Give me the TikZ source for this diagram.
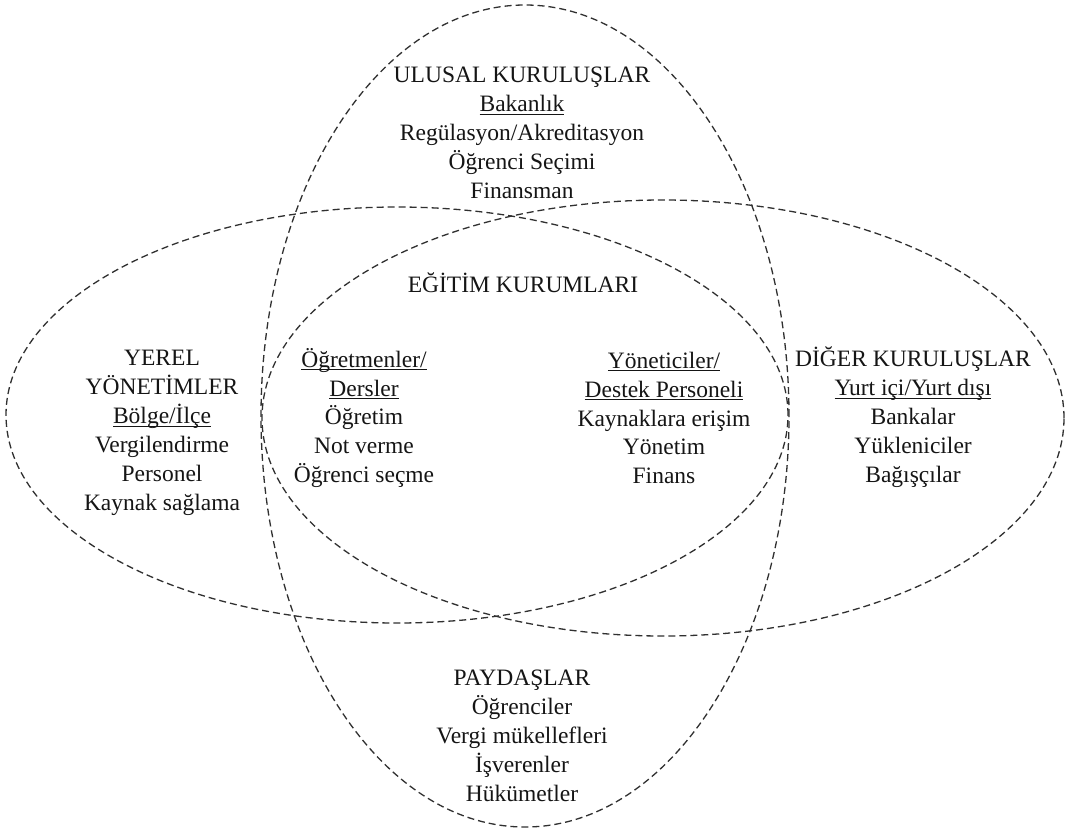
\documentclass[tikz,border=0pt]{standalone}
\usepackage{fontspec}
\setmainfont{Liberation Serif}
\definecolor{inkline}{HTML}{303030}
\definecolor{inktext}{HTML}{151515}
% underline placed just below the baseline, as a word processor draws it
\newcommand{\ulword}[1]{\leavevmode\setbox0\hbox{#1}\rlap{\rule[-3.2pt]{\wd0}{1.1pt}}\box0}
\tikzset{
  venn/.style={draw=inkline, line width=1.3pt, dash pattern=on 7pt off 4pt},
  label/.style={align=center, text=inktext, inner sep=0pt,
    font=\fontsize{23.5pt}{28.9pt}\selectfont}
}
\begin{document}
\begin{tikzpicture}[x=1pt, y=-1pt]
\useasboundingbox (0,0) rectangle (1070,830);
\fill[white] (0,0) rectangle (1070,830);

% four overlapping sets
\draw[venn] (525,416) ellipse [x radius=264pt, y radius=411pt];
\draw[venn] (397,415) ellipse [x radius=391pt, y radius=208pt];
\draw[venn] (663,418) ellipse [x radius=401pt, y radius=218pt];

% national bodies
\node[label] (ulusal) at (522,133)
  {ULUSAL KURULUŞLAR\\ \ulword{Bakanlık}\\ Regülasyon/Akreditasyon\\ Öğrenci Seçimi\\ Finansman};

% institutions
\node[label] (egitim) at (523,283) {EĞİTİM KURUMLARI};

\node[label] (ogretmen) at (364,418)
  {\ulword{Öğretmenler/}\\ \ulword{Dersler}\\ Öğretim\\ Not verme\\ Öğrenci seçme};

\node[label] (yonetici) at (664,418)
  {\ulword{Yöneticiler/}\\ \ulword{Destek Personeli}\\ Kaynaklara erişim\\ Yönetim\\ Finans};

% local government
\node[label] (yerel) at (162,433)
  {YEREL\\ YÖNETİMLER\\ \ulword{Bölge/İlçe}\\ Vergilendirme\\ Personel\\ Kaynak sağlama};

% other bodies
\node[label] (diger) at (913,417)
  {DİĞER KURULUŞLAR\\ \ulword{Yurt içi/Yurt dışı}\\ Bankalar\\ Yükleniciler\\ Bağışçılar};

% stakeholders
\node[label] (paydas) at (522,736)
  {PAYDAŞLAR\\ Öğrenciler\\ Vergi mükellefleri\\ İşverenler\\ Hükümetler};
\end{tikzpicture}
\end{document}
